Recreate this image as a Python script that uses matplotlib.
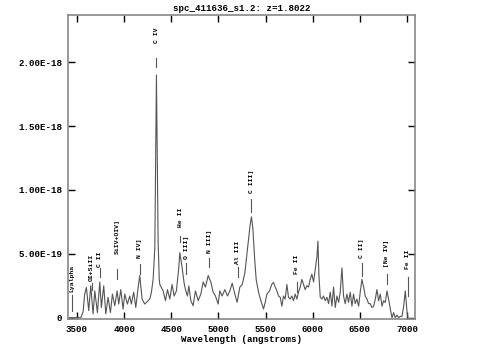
import matplotlib
matplotlib.use("Agg")
import matplotlib.pyplot as plt

# spectrum (flux in units of 1e-18)
wave = [3420, 3540, 3565, 3580, 3599, 3624, 3645, 3670, 3688, 3716,
        3741, 3758, 3783, 3805, 3829, 3854, 3875, 3900, 3925, 3942,
        3964, 3988, 4006, 4034, 4059, 4076, 4101, 4123, 4148, 4165,
        4190, 4218, 4254, 4272, 4289, 4307, 4325, 4335, 4342, 4350,
        4360, 4372, 4378, 4413, 4438, 4459, 4484, 4508, 4530, 4554,
        4579, 4590, 4615, 4636, 4650, 4671, 4686, 4707, 4731, 4756,
        4785, 4813, 4838, 4862, 4891, 4919, 4944, 4968, 4997, 5014,
        5039, 5068, 5096, 5121, 5146, 5174, 5198, 5227, 5252, 5280,
        5310, 5335, 5350, 5365, 5385, 5400, 5425, 5450, 5478, 5496,
        5514, 5542, 5567, 5584, 5602, 5620, 5637, 5655, 5673, 5690,
        5708, 5726, 5743, 5761, 5779, 5796, 5814, 5832, 5849, 5867,
        5885, 5902, 5920, 5938, 5956, 5973, 5991, 6009, 6027, 6045,
        6055, 6066, 6080, 6098, 6115, 6133, 6151, 6168, 6186, 6204,
        6221, 6239, 6257, 6275, 6292, 6310, 6327, 6345, 6363, 6380,
        6398, 6416, 6433, 6451, 6469, 6487, 6504, 6522, 6540, 6557,
        6575, 6593, 6610, 6628, 6646, 6664, 6681, 6699, 6717, 6735,
        6752, 6770, 6788, 6805, 6823, 6841, 6858, 6876, 6894, 6911,
        6929, 6947, 6965, 6982, 7000, 7010]
flux = [0.0, 0.0, 0.05, 0.18, 0.237, 0.055, 0.25, 0.03, 0.21, 0.04,
        0.28, 0.08, 0.25, 0.03, 0.16, 0.04, 0.185, 0.094, 0.21, 0.107,
        0.22, 0.068, 0.185, 0.107, 0.17, 0.107, 0.2, 0.08, 0.237, 0.33,
        0.146, 0.107, 0.133, 0.146, 0.2, 0.3, 0.55, 1.3, 1.90, 1.3,
        0.6, 0.3, 0.26, 0.21, 0.133, 0.22, 0.146, 0.26, 0.17, 0.21,
        0.39, 0.51, 0.39, 0.27, 0.22, 0.17, 0.25, 0.133, 0.094, 0.21,
        0.133, 0.185, 0.28, 0.24, 0.33, 0.28, 0.2, 0.17, 0.107, 0.21,
        0.17, 0.22, 0.17, 0.21, 0.27, 0.185, 0.12, 0.24, 0.26, 0.35,
        0.55, 0.72, 0.79, 0.7, 0.45, 0.30, 0.2, 0.133, 0.068, 0.12,
        0.185, 0.21, 0.263, 0.276, 0.24, 0.21, 0.17, 0.16, 0.09, 0.17,
        0.146, 0.26, 0.16, 0.146, 0.17, 0.133, 0.185, 0.146, 0.2, 0.24,
        0.30, 0.26, 0.22, 0.25, 0.24, 0.30, 0.34, 0.28, 0.38, 0.48,
        0.60, 0.33, 0.16, 0.146, 0.17, 0.133, 0.16, 0.11, 0.2, 0.09,
        0.24, 0.08, 0.17, 0.12, 0.2, 0.39, 0.17, 0.11, 0.185, 0.12,
        0.2, 0.09, 0.185, 0.11, 0.146, 0.09, 0.2, 0.30, 0.24, 0.17,
        0.146, 0.11, 0.11, 0.08, 0.09, 0.146, 0.22, 0.133, 0.185, 0.09,
        0.133, 0.12, 0.21, 0.146, 0.068, 0.0, 0.04, 0.0, 0.02, 0.0,
        0.01, 0.01, 0.09, 0.21, 0.05, 0.0]

# emission line marks: name, wavelength, text bottom, tick top, tick bottom
line_names = ["Lyalpha", "OI+SiII", "C II", "SiIV+OIV]", "N IV]", "C IV",
              "He II", "O III]", "N III]", "Al III", "C III]", "Fe II",
              "C II]", "[Ne IV]", "Fe II"]
line_waves = [3450, 3654, 3741, 3923, 4164, 4342, 4596, 4660, 4904, 5204,
              5349, 5832, 6522, 6788, 7010]
line_text_y = [0.20, 0.29, 0.40, 0.50, 0.47, 2.15, 0.71, 0.46, 0.51, 0.42,
               0.98, 0.34, 0.47, 0.40, 0.38]
line_tick_top = [0.18, 0.27, 0.39, 0.38, 0.42, 2.03, 0.64, 0.43, 0.47, 0.40,
                 0.93, 0.28, 0.43, 0.34, 0.32]
line_tick_bot = [0.05, 0.22, 0.32, 0.30, 0.34, 1.96, 0.59, 0.34, 0.40, 0.32,
                 0.83, 0.20, 0.33, 0.26, 0.17]

x_ticks = [3500, 4000, 4500, 5000, 5500, 6000, 6500, 7000]
y_ticks = [0, 0.5, 1.0, 1.5, 2.0]
y_tick_labels = ["0", "5.00E-19", "1.00E-18", "1.50E-18", "2.00E-18"]

font = "Liberation Mono"

fig = plt.figure(figsize=(4.83, 3.58), dpi=100)
ax = fig.add_axes([0.1408, 0.109, 0.7184, 0.849])

ax.plot(wave, flux, color="#555555", lw=0.8)

for i in range(len(line_names)):
  ax.text(line_waves[i], line_text_y[i], line_names[i], rotation=90,
          ha="center", va="bottom", fontsize=4.6, fontweight="bold",
          family=font)
  ax.plot([line_waves[i], line_waves[i]], [line_tick_bot[i], line_tick_top[i]],
          color="#555555", lw=0.8)

ax.set_xlim(3404, 7085)
ax.set_ylim(-0.01, 2.37)

ax.set_xticks(x_ticks)
ax.set_xticklabels([str(x) for x in x_ticks])
ax.set_yticks(y_ticks)
ax.set_yticklabels(y_tick_labels)

ax.tick_params(direction="in", top=True, right=True, length=5, width=1,
               labelsize=6.6, pad=4)
for lab in ax.get_xticklabels() + ax.get_yticklabels():
  lab.set_family(font)
  lab.set_fontweight("bold")

for s in ax.spines.values():
  s.set_color("#888888")
  s.set_linewidth(1.2)

ax.set_xlabel("Wavelength (angstroms)", family=font, fontweight="bold",
              fontsize=6.6, labelpad=1)
ax.set_title("spc_411636_s1.2: z=1.8022", family=font, fontweight="bold",
             fontsize=6.6, pad=3)

fig.savefig("out.png", dpi=100)
